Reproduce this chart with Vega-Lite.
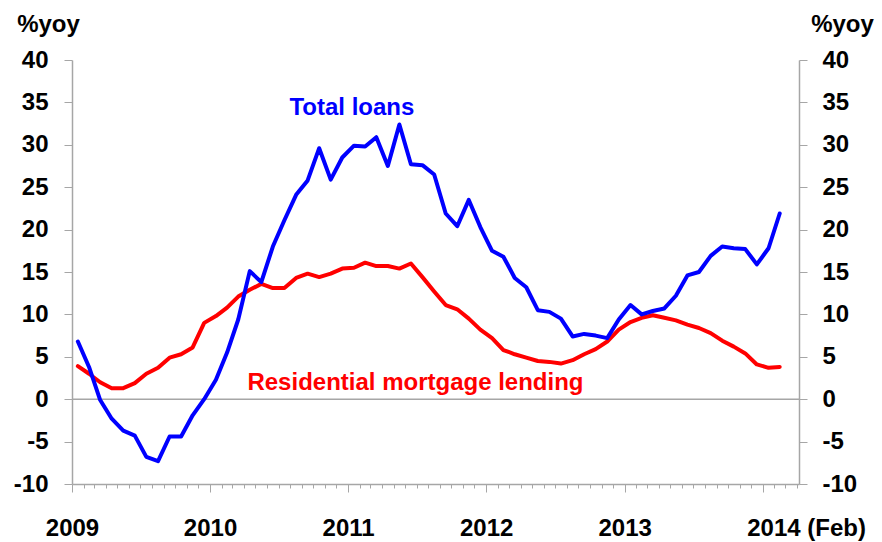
{
  "$schema": "https://vega.github.io/schema/vega-lite/v6.json",
  "autosize": {"type": "none"},
  "width": 727,
  "height": 424,
  "padding": {"left": 72, "top": 60, "right": 83, "bottom": 58},
  "background": "white",
  "config": {"view": {"stroke": null}},
  "resolve": {"axis": {"y": "independent"}},
  "layer": [
    {
      "data": {"values": [{"zero": 0}]},
      "mark": {"type": "rule", "color": "#a6a6a6", "strokeWidth": 1.5},
      "encoding": {
        "y": {
          "field": "zero",
          "type": "quantitative",
          "scale": {"domain": [-10, 40], "nice": false, "zero": false},
          "axis": {
            "orient": "right",
            "values": [-10, -5, 0, 5, 10, 15, 20, 25, 30, 35, 40],
            "labelExpr": "'' + datum.value",
            "grid": false,
            "domainColor": "#a6a6a6",
            "domainWidth": 1.5,
            "tickColor": "#a6a6a6",
            "tickWidth": 1,
            "tickSize": 8,
            "labelPadding": 15,
            "labelFont": "Liberation Sans",
            "labelFontWeight": "bold",
            "labelFontSize": 24,
            "labelColor": "#000000",
            "labelBaseline": "middle",
            "title": "%yoy",
            "titleAngle": 0,
            "titleX": 43,
            "titleY": -29,
            "titleAlign": "center",
            "titleBaseline": "alphabetic",
            "titleFont": "Liberation Sans",
            "titleFontWeight": "bold",
            "titleFontSize": 24,
            "titleColor": "#000000"
          }
        }
      }
    },
    {
      "data": {"name": "series", "values": [
        {"date": "2009-01", "total": 6.8, "mortgage": 3.9},
        {"date": "2009-02", "total": 3.8, "mortgage": 3.0},
        {"date": "2009-03", "total": -0.1, "mortgage": 2.0},
        {"date": "2009-04", "total": -2.3, "mortgage": 1.3},
        {"date": "2009-05", "total": -3.7, "mortgage": 1.3},
        {"date": "2009-06", "total": -4.3, "mortgage": 1.9},
        {"date": "2009-07", "total": -6.8, "mortgage": 3.0},
        {"date": "2009-08", "total": -7.3, "mortgage": 3.7},
        {"date": "2009-09", "total": -4.4, "mortgage": 4.9},
        {"date": "2009-10", "total": -4.4, "mortgage": 5.3},
        {"date": "2009-11", "total": -1.9, "mortgage": 6.1},
        {"date": "2009-12", "total": 0.0, "mortgage": 9.0},
        {"date": "2010-01", "total": 2.3, "mortgage": 9.8},
        {"date": "2010-02", "total": 5.5, "mortgage": 10.8},
        {"date": "2010-03", "total": 9.4, "mortgage": 12.1},
        {"date": "2010-04", "total": 15.1, "mortgage": 12.9},
        {"date": "2010-05", "total": 13.8, "mortgage": 13.6},
        {"date": "2010-06", "total": 18.0, "mortgage": 13.1},
        {"date": "2010-07", "total": 21.1, "mortgage": 13.1},
        {"date": "2010-08", "total": 24.1, "mortgage": 14.3},
        {"date": "2010-09", "total": 25.8, "mortgage": 14.8},
        {"date": "2010-10", "total": 29.6, "mortgage": 14.4},
        {"date": "2010-11", "total": 25.9, "mortgage": 14.8},
        {"date": "2010-12", "total": 28.5, "mortgage": 15.4},
        {"date": "2011-01", "total": 29.9, "mortgage": 15.5},
        {"date": "2011-02", "total": 29.8, "mortgage": 16.1},
        {"date": "2011-03", "total": 30.9, "mortgage": 15.7},
        {"date": "2011-04", "total": 27.5, "mortgage": 15.7},
        {"date": "2011-05", "total": 32.4, "mortgage": 15.4},
        {"date": "2011-06", "total": 27.7, "mortgage": 16.0},
        {"date": "2011-07", "total": 27.6, "mortgage": 14.4},
        {"date": "2011-08", "total": 26.5, "mortgage": 12.7},
        {"date": "2011-09", "total": 21.9, "mortgage": 11.1},
        {"date": "2011-10", "total": 20.4, "mortgage": 10.6},
        {"date": "2011-11", "total": 23.5, "mortgage": 9.5},
        {"date": "2011-12", "total": 20.3, "mortgage": 8.2},
        {"date": "2012-01", "total": 17.5, "mortgage": 7.2},
        {"date": "2012-02", "total": 16.8, "mortgage": 5.8},
        {"date": "2012-03", "total": 14.3, "mortgage": 5.3},
        {"date": "2012-04", "total": 13.2, "mortgage": 4.9},
        {"date": "2012-05", "total": 10.5, "mortgage": 4.5},
        {"date": "2012-06", "total": 10.3, "mortgage": 4.4},
        {"date": "2012-07", "total": 9.5, "mortgage": 4.2},
        {"date": "2012-08", "total": 7.4, "mortgage": 4.6},
        {"date": "2012-09", "total": 7.7, "mortgage": 5.3},
        {"date": "2012-10", "total": 7.5, "mortgage": 5.9},
        {"date": "2012-11", "total": 7.2, "mortgage": 6.8},
        {"date": "2012-12", "total": 9.4, "mortgage": 8.2},
        {"date": "2013-01", "total": 11.1, "mortgage": 9.1},
        {"date": "2013-02", "total": 10.0, "mortgage": 9.6},
        {"date": "2013-03", "total": 10.4, "mortgage": 9.9},
        {"date": "2013-04", "total": 10.7, "mortgage": 9.6},
        {"date": "2013-05", "total": 12.2, "mortgage": 9.3},
        {"date": "2013-06", "total": 14.6, "mortgage": 8.8},
        {"date": "2013-07", "total": 15.0, "mortgage": 8.4},
        {"date": "2013-08", "total": 16.9, "mortgage": 7.8},
        {"date": "2013-09", "total": 18.0, "mortgage": 6.9},
        {"date": "2013-10", "total": 17.8, "mortgage": 6.2},
        {"date": "2013-11", "total": 17.7, "mortgage": 5.4},
        {"date": "2013-12", "total": 15.9, "mortgage": 4.1},
        {"date": "2014-01", "total": 17.8, "mortgage": 3.7},
        {"date": "2014-02", "total": 21.9, "mortgage": 3.8}
      ]},
      "mark": {"type": "line", "color": "#ff0000", "strokeWidth": 4, "strokeJoin": "round", "strokeCap": "round"},
      "encoding": {
        "x": {
          "field": "date",
          "type": "temporal",
          "timeUnit": "utcyearmonth",
          "bandPosition": 0.5,
          "scale": {"type": "utc", "domain": [{"year": 2009, "month": 1, "date": 1, "utc": true}, {"year": 2014, "month": 4, "date": 7, "utc": true}], "nice": false},
          "axis": {
            "title": null,
            "tickCount": {"interval": "month", "step": 1},
            "labelExpr": "utcmonth(datum.value) == 0 ? (utcyear(datum.value) == 2014 ? '2014 (Feb)' : '' + utcyear(datum.value)) : ''",
            "labelOverlap": false,
            "labelFlush": false,
            "labelBound": false,
            "grid": false,
            "domainColor": "#a6a6a6",
            "domainWidth": 1.5,
            "tickColor": "#a6a6a6",
            "tickWidth": 1,
            "tickSize": {"condition": {"test": "utcmonth(datum.value) == 0", "value": 8}, "value": 4},
            "labelPadding": 24,
            "labelFont": "Liberation Sans",
            "labelFontWeight": "bold",
            "labelFontSize": 24,
            "labelColor": "#000000",
            "labelBaseline": "top",
            "labelAlign": {"condition": {"test": "utcyear(datum.value) == 2014", "value": "left"}, "value": "center"},
            "labelOffset": {"condition": {"test": "utcyear(datum.value) == 2014", "value": -16}, "value": 0}
          }
        },
        "y": {
          "field": "mortgage",
          "type": "quantitative",
          "scale": {"domain": [-10, 40], "nice": false, "zero": false},
          "axis": {
            "orient": "left",
            "values": [-10, -5, 0, 5, 10, 15, 20, 25, 30, 35, 40],
            "labelExpr": "'' + datum.value",
            "grid": false,
            "domainColor": "#a6a6a6",
            "domainWidth": 1.5,
            "tickColor": "#a6a6a6",
            "tickWidth": 1,
            "tickSize": 8,
            "labelPadding": 16,
            "labelFont": "Liberation Sans",
            "labelFontWeight": "bold",
            "labelFontSize": 24,
            "labelColor": "#000000",
            "labelBaseline": "middle",
            "title": "%yoy",
            "titleAngle": 0,
            "titleX": -24,
            "titleY": -29,
            "titleAlign": "center",
            "titleBaseline": "alphabetic",
            "titleFont": "Liberation Sans",
            "titleFontWeight": "bold",
            "titleFontSize": 24,
            "titleColor": "#000000"
          }
        }
      }
    },
    {
      "data": {"name": "series"},
      "mark": {"type": "line", "color": "#0000ff", "strokeWidth": 4, "strokeJoin": "round", "strokeCap": "round"},
      "encoding": {
        "x": {"field": "date", "type": "temporal", "timeUnit": "utcyearmonth", "bandPosition": 0.5},
        "y": {"field": "total", "type": "quantitative", "axis": null}
      }
    },
    {
      "data": {"values": [{"label": "Total loans", "series": "total"}]},
      "mark": {"type": "text", "color": "#0000ff", "font": "Liberation Sans", "fontWeight": "bold", "fontSize": 24, "align": "center", "baseline": "alphabetic"},
      "encoding": {
        "text": {"field": "label"},
        "x": {"datum": {"year": 2011, "month": 1, "date": 11, "utc": true}, "type": "temporal"},
        "y": {"datum": 33.5, "type": "quantitative", "axis": null}
      }
    },
    {
      "data": {"values": [{"label": "Residential mortgage lending", "series": "mortgage"}]},
      "mark": {"type": "text", "color": "#ff0000", "font": "Liberation Sans", "fontWeight": "bold", "fontSize": 24, "align": "center", "baseline": "alphabetic"},
      "encoding": {
        "text": {"field": "label"},
        "x": {"datum": {"year": 2011, "month": 6, "date": 28, "utc": true}, "type": "temporal"},
        "y": {"datum": 1.05, "type": "quantitative", "axis": null}
      }
    }
  ]
}
